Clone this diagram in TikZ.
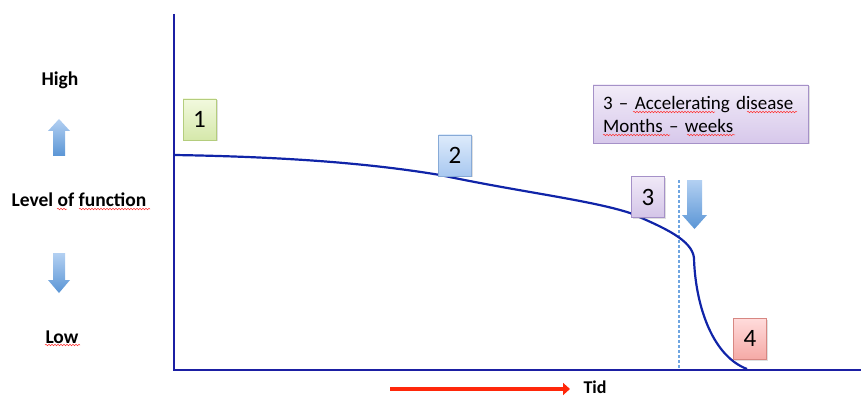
\documentclass[tikz,border=0pt]{standalone}
\usepackage{fontspec}
\setmainfont{Carlito}
\usetikzlibrary{shadows,decorations.pathmorphing,arrows.meta}
\definecolor{axisblue}{HTML}{1B1FA3}
\definecolor{curveblue}{HTML}{1024A8}
\definecolor{arrowtop}{HTML}{B3D0F2}
\definecolor{arrowbot}{HTML}{5A95D5}
\tikzset{
  numbox/.style={draw, line width=0.8pt, minimum width=33pt, minimum height=41pt, inner sep=0pt,
     font=\fontsize{25}{28}\selectfont, drop shadow={shadow xshift=1.5pt, shadow yshift=-1.5pt, opacity=0.25}},
  blockarrow/.style={draw=none, top color=arrowtop, bottom color=arrowbot},
  lbl/.style={font=\bfseries\fontsize{19.5}{22}\selectfont},
  squig/.style={red!80!white, line width=0.5pt, decorate, decoration={snake, amplitude=0.8pt, segment length=3pt}},
}
\begin{document}
\begin{tikzpicture}[x=1pt,y=-1pt]
\useasboundingbox (0,0) rectangle (861,398);
% axes
\coordinate (ytop) at (174,14);
\coordinate (orig) at (174,370);
\coordinate (xend) at (861,370);
\draw[axisblue, line width=2.6pt] (ytop) -- (orig) -- (xend);
% dashed line
\coordinate (dtop) at (679,180);
\coordinate (dbot) at (679,368);
\draw[color={rgb,255:red,110;green,165;blue,225}, line width=1.2pt, dash pattern=on 3pt off 2pt] (dtop) -- (dbot);
% curve
\coordinate (c0) at (174,155);
\coordinate (c1) at (440,175);
\coordinate (c2) at (630,213);
\coordinate (c3) at (694,258);
\coordinate (c4) at (747,369);
\draw[curveblue, line width=2.2pt]
  (c0) .. controls (300,157) and (380,165) .. (c1)
  .. controls (520,192) and (590,200) .. (c2)
  .. controls (665,228) and (692,240) .. (c3)
  .. controls (695,300) and (710,355) .. (c4);
% number boxes
\node[numbox, top color={rgb,255:red,242;green,249;blue,222}, bottom color={rgb,255:red,213;green,232;blue,170}, draw={rgb,255:red,180;green,205;blue,125}] (b1) at (199.5,119.5) {1};
\node[numbox, top color={rgb,255:red,222;green,235;blue,251}, bottom color={rgb,255:red,168;green,200;blue,240}, draw={rgb,255:red,135;green,170;blue,215}] (b2) at (455,155.5) {2};
\node[numbox, top color={rgb,255:red,240;green,233;blue,247}, bottom color={rgb,255:red,212;green,197;blue,232}, draw={rgb,255:red,165;green,145;blue,200}] (b3) at (648,197) {3};
\node[numbox, top color={rgb,255:red,255;green,220;blue,220}, bottom color={rgb,255:red,245;green,170;blue,166}, draw={rgb,255:red,215;green,135;blue,130}] (b4) at (750,338.5) {4};
% text box
\node[draw={rgb,255:red,165;green,145;blue,200}, line width=0.8pt, top color={rgb,255:red,242;green,236;blue,248}, bottom color={rgb,255:red,215;green,200;blue,235},
  minimum width=215pt, minimum height=58pt, align=left, text width=195pt, inner xsep=10pt, inner ysep=0pt,
  font=\fontsize{19}{23}\selectfont, drop shadow={shadow xshift=1.5pt, shadow yshift=-1.5pt, opacity=0.25}] (tb) at (700.5,114)
  {3 – Accelerating disease\\Months – weeks};
% spell squiggles in text box
\draw[squig] (633,112) -- (715,112);
\draw[squig] (747,112) -- (797,112);
\draw[squig] (603,135) -- (670,135);
\draw[squig] (687,135) -- (735,135);
% down arrow near dashed line
\path[blockarrow] (687,180) -- (702,180) -- (702,215) -- (707,215) -- (694.5,229) -- (682,215) -- (687,215) -- cycle;
% left labels
\node[lbl] (high) at (60,80) {High};
\node[lbl] (lev) at (79,200) {Level of function};
\node[lbl] (low) at (62,337) {Low};
\draw[squig] (57,209) -- (67,209);
\draw[squig] (79,209) -- (150,209);
\draw[squig] (45,345) -- (80,345);
\path[blockarrow] (59,119) -- (70,131) -- (65,131) -- (65,156) -- (53,156) -- (53,131) -- (48,131) -- cycle;
\path[blockarrow] (53,253) -- (65,253) -- (65,280) -- (70,280) -- (59,293) -- (48,280) -- (53,280) -- cycle;
% time arrow
\coordinate (ts) at (390,389);
\coordinate (te) at (570,389);
\draw[color={rgb,255:red,255;green,40;blue,10}, line width=4.5pt, -{Triangle[length=7pt,width=12pt]}] (ts) -- (te);
\node[font=\bfseries\fontsize{18}{20}\selectfont, anchor=base, inner sep=0pt] (tid) at (595,393) {Tid};
\end{tikzpicture}
\end{document}
